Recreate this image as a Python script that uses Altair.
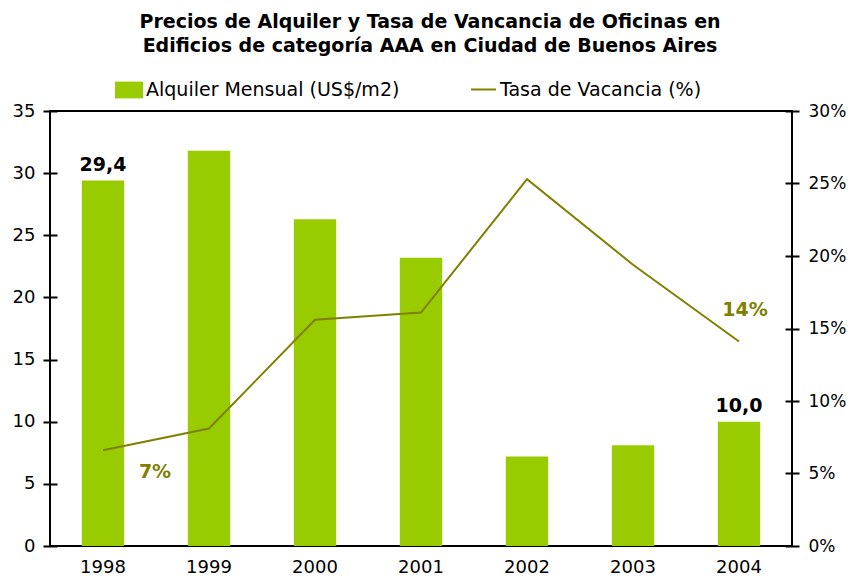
import altair as alt
import pandas as pd

years = ["1998", "1999", "2000", "2001", "2002", "2003", "2004"]
alquiler = [29.4, 31.8, 26.3, 23.2, 7.2, 8.1, 10.0]
vacancia = [0.066, 0.081, 0.156, 0.161, 0.253, 0.194, 0.141]
bar_labels = ["29,4", "", "", "", "", "", "10,0"]
line_labels = ["7%", "", "", "", "", "", "14%"]
serie_bar = "Alquiler Mensual (US$/m2)"
serie_line = "Tasa de Vacancia (%)"
title_lines = ["Precios de Alquiler y Tasa de Vancancia de Oficinas en",
               "Edificios de categoría AAA en Ciudad de Buenos Aires"]

BAR = "#99cc00"
OLIVE = "#808000"
FONT = "DejaVu Sans"
AX = 18
LG = 19

df = pd.DataFrame({
    "year": years, "alquiler": alquiler, "vacancia": vacancia,
    "bar_label": bar_labels, "line_label": line_labels,
    "s1": serie_bar, "s2": serie_line,
})

x = alt.X("year:O", scale=alt.Scale(paddingInner=0.6, paddingOuter=0.3),
          axis=alt.Axis(title=None, labelAngle=0, ticks=False, domain=False,
                        labelPadding=12, labelFontSize=AX, labelFont=FONT,
                        labelColor="black", grid=False))

y_left = alt.Y("alquiler:Q", scale=alt.Scale(domain=[0, 35], nice=False),
               axis=alt.Axis(title=None, orient="left", values=[0, 5, 10, 15, 20, 25, 30, 35],
                             offset=-7, tickSize=14, tickWidth=2, tickColor="black",
                             domain=False, grid=False, labelPadding=8,
                             labelFontSize=AX, labelFont=FONT, labelColor="black"))

y_right = alt.Y("vacancia:Q", scale=alt.Scale(domain=[0, 0.3], nice=False),
                axis=alt.Axis(title=None, orient="right", format=".0%",
                              values=[0, 0.05, 0.1, 0.15, 0.2, 0.25, 0.3],
                              offset=-7, tickSize=14, tickWidth=2, tickColor="black",
                              domain=False, grid=False, labelPadding=9,
                              labelFontSize=17, labelFont=FONT, labelColor="black"))

bars = alt.Chart(df).mark_bar().encode(
    x=x, y=y_left,
    color=alt.Color("s1:N", scale=alt.Scale(domain=[serie_bar], range=[BAR]),
                    legend=alt.Legend(title=None, orient="none", legendX=65, legendY=-35,
                                      padding=0, symbolType="M-1,-0.6H1V0.6H-1Z",
                                      symbolSize=784, symbolStrokeWidth=0, symbolOpacity=1,
                                      labelFontSize=LG, labelFont=FONT, labelColor="black",
                                      labelOffset=3, labelLimit=400)),
)

bar_text = alt.Chart(df).transform_filter("datum.bar_label != ''").mark_text(
    fontWeight="bold", fontSize=19, font=FONT, color="black", baseline="alphabetic", dy=-10
).encode(x=x, y=y_left, text="bar_label:N")

line = alt.Chart(df).mark_line(strokeWidth=2).encode(
    x=x, y=y_right,
    stroke=alt.Stroke("s2:N", scale=alt.Scale(domain=[serie_line], range=[OLIVE]),
                      legend=alt.Legend(title=None, orient="none", legendX=420, legendY=-35,
                                        padding=0, symbolType="stroke", symbolSize=625,
                                        symbolStrokeWidth=2,
                                        labelFontSize=LG, labelFont=FONT, labelColor="black",
                                        labelOffset=3, labelLimit=400)),
)

t7 = alt.Chart(df).transform_filter("datum.line_label == '7%'").mark_text(
    fontWeight="bold", fontSize=19, font=FONT, color=OLIVE, dx=52, dy=22
).encode(x=x, y=y_right, text="line_label:N")

t14 = alt.Chart(df).transform_filter("datum.line_label == '14%'").mark_text(
    fontWeight="bold", fontSize=19, font=FONT, color=OLIVE, dx=6, dy=-32
).encode(x=x, y=y_right, text="line_label:N")

chart = alt.layer(
    alt.layer(bars, bar_text),
    alt.layer(line, t7, t14),
).resolve_scale(y="independent", color="independent").properties(
    width=742, height=435,
    autosize=alt.AutoSizeParams(type="none"),
    padding={"left": 42, "top": 103, "right": 55, "bottom": 30},
    title=alt.TitleParams(text=title_lines, fontSize=19, font=FONT, fontWeight="bold",
                          color="black", anchor="middle", lineHeight=24, offset=20, dx=9),
).configure_view(stroke="black", strokeWidth=2)

chart.save("out.html", embed_options={"renderer": "svg", "actions": False})
